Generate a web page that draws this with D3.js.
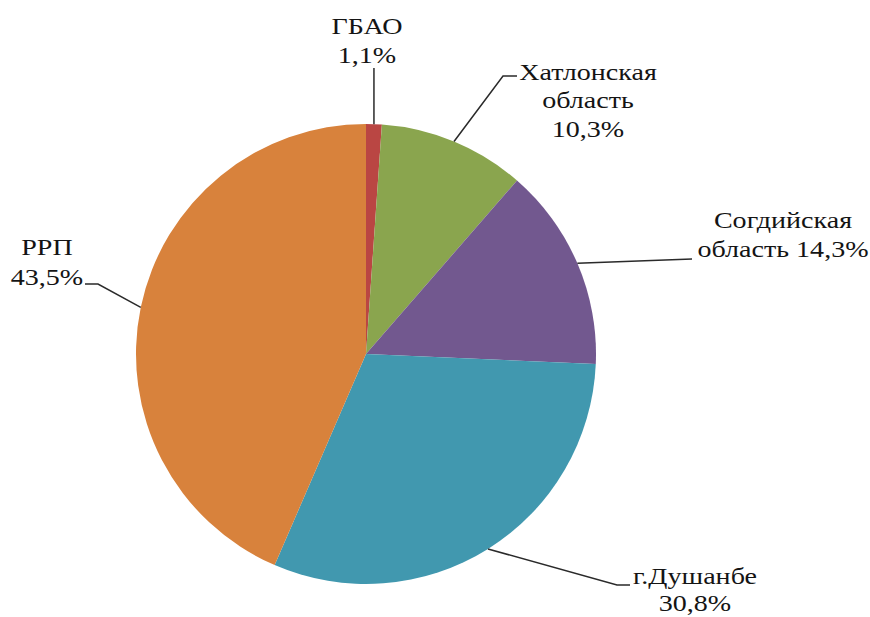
<!DOCTYPE html>
<html>
<head>
<meta charset="utf-8">
<script src="https://cdn.jsdelivr.net/npm/d3@7"></script>
<style>
  html, body { margin: 0; padding: 0; background: #fff; }
  svg { display: block; }
</style>
</head>
<body>
<svg id="chart" width="870" height="617"></svg>
<script>
// ---- data ----
const categories = ["ГБАО", "Хатлонская область", "Согдийская область", "г.Душанбе", "РРП"];
const shares = [1.1, 10.3, 14.3, 30.8, 43.5];
const valueLabels = ["1,1%", "10,3%", "14,3%", "30,8%", "43,5%"];
const sliceColors = ["#BA4643", "#8AA54E", "#72588F", "#4198AF", "#D8823C"];

// ---- layout (label placement) ----
const labelLayout = [
  { lines: ["ГБАО", "1,1%"], x: 367, y: 34, gap: 29, path: [[null, 68]] },
  { lines: ["Хатлонская", "область", "10,3%"], x: 588, y: 80, gap: 28.5, path: [[503, 76], [517, 76]] },
  { lines: ["Согдийская", "область 14,3%"], x: 783, y: 228, gap: 29, path: [[692, 259]] },
  { lines: ["г.Душанбе", "30,8%"], x: 695, y: 584, gap: 27, path: [[617, 585], [630, 585]] },
  { lines: ["РРП", "43,5%"], x: 47, y: 255, gap: 30, path: [[98, 284], [85, 284]] }
];

const cx = 366, cy = 354, R = 230;
const svg = d3.select("#chart");
const g = svg.append("g").attr("transform", `translate(${cx},${cy})`);

const pie = d3.pie().sort(null).value(d => d)(shares);
const arc = d3.arc().innerRadius(0).outerRadius(R);
const edgeArc = d3.arc().innerRadius(R).outerRadius(R);

g.selectAll("path.slice")
  .data(pie)
  .join("path")
  .attr("class", "slice")
  .attr("d", arc)
  .attr("fill", (d, i) => sliceColors[i]);

// leader lines
pie.forEach((d, i) => {
  const L = labelLayout[i];
  const c = edgeArc.centroid(d);
  const p0 = [cx + c[0], cy + c[1]];
  const pts = [p0];
  L.path.forEach(p => pts.push([p[0] === null ? p0[0] : p[0], p[1]]));
  svg.append("path")
    .attr("d", d3.line()(pts))
    .attr("fill", "none")
    .attr("stroke", "#2a2a2a")
    .attr("stroke-width", 1.5);
});

// labels
labelLayout.forEach((L, i) => {
  const t = svg.append("text")
    .attr("transform", `translate(${L.x},${L.y}) scale(1.17,1)`)
    .attr("text-anchor", "middle")
    .style("font-family", '"Liberation Serif"')
    .style("font-size", "24px")
    .attr("fill", "#141414");
  L.lines.forEach((ln, k) => {
    t.append("tspan")
      .attr("x", 0)
      .attr("dy", k === 0 ? 0 : L.gap)
      .text(ln);
  });
});
</script>
</body>
</html>
